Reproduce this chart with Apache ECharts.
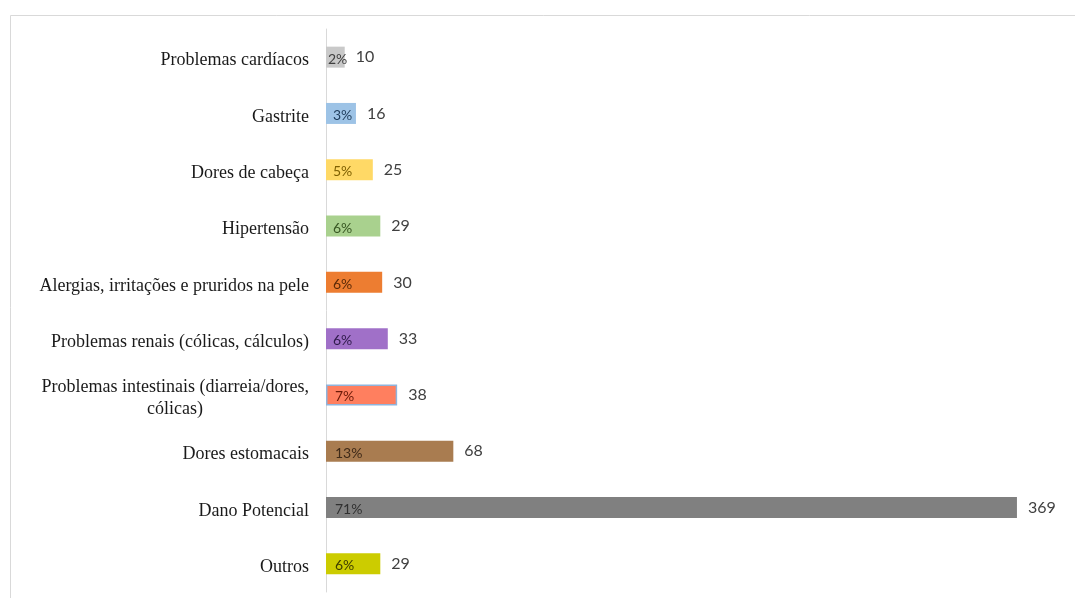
<!DOCTYPE html>
<html>
<head>
<meta charset="utf-8">
<script src="https://cdn.jsdelivr.net/npm/echarts@6/dist/echarts.min.js"></script>
<style>
  html, body { margin: 0; padding: 0; background: #fff; }
  #chart { width: 1075px; height: 598px; }
</style>
</head>
<body>
<div id="chart"></div>
<script>
// data, top to bottom
const categories = [
  "Problemas cardíacos",
  "Gastrite",
  "Dores de cabeça",
  "Hipertensão",
  "Alergias, irritações e pruridos na pele",
  "Problemas renais (cólicas, cálculos)",
  "Problemas intestinais (diarreia/dores,\ncólicas)",
  "Dores estomacais",
  "Dano Potencial",
  "Outros"
];
const counts = [10, 16, 25, 29, 30, 33, 38, 68, 369, 29];
const percents = ["2%", "3%", "5%", "6%", "6%", "6%", "7%", "13%", "71%", "6%"];

const barColors = ["#c9c9c9", "#9dc3e6", "#ffd966", "#a9d18e", "#ed7d31", "#a070c8", "#ff7f5f", "#a97c50", "#808080", "#cccc00"];
const pctColors = ["#404040", "#1f3d5c", "#7f6000", "#385723", "#5a2a08", "#2e1a4a", "#6b1a08", "#3f2a18", "#303030", "#3d3d00"];

const chart = echarts.init(document.getElementById("chart"));

const pctData = counts.map((v, i) => ({
  value: v,
  itemStyle: {
    color: barColors[i],
    borderColor: i === 6 ? "#8fb4dc" : barColors[i],
    borderWidth: i === 6 ? 1.5 : 0
  },
  label: { color: pctColors[i], distance: i === 0 ? 2 : (i >= 6 ? 9 : 7) }
}));

chart.setOption({
  animation: false,
  graphic: [{
    type: "rect",
    shape: { x: 10.5, y: 15.5, width: 1100, height: 640 },
    style: { fill: "none", stroke: "#d9d9d9", lineWidth: 1 },
    silent: true,
    z: -10
  }],
  grid: { left: 326, top: 29, width: 750, height: 563, containLabel: false },
  xAxis: {
    type: "value",
    min: 0,
    max: 400,
    show: false
  },
  yAxis: {
    type: "category",
    data: categories,
    inverse: true,
    axisTick: { show: false },
    axisLine: { show: true, lineStyle: { color: "#d9d9d9", width: 1 } },
    axisLabel: {
      margin: 17,
      padding: [7, 0, 0, 0],
      fontFamily: "Liberation Serif",
      fontSize: 18,
      color: "#1a1a1a",
      lineHeight: 22,
      formatter: (v) => {
        if (v.indexOf("\n") < 0) return v;
        const parts = v.split("\n");
        return parts[0] + "\n{c|" + parts[1] + "}";
      },
      rich: {
        c: {
          fontFamily: "Liberation Serif",
          fontSize: 18,
          color: "#1a1a1a",
          width: 268,
          align: "center",
          lineHeight: 22
        }
      }
    }
  },
  series: [
    {
      type: "bar",
      data: pctData,
      barWidth: 21,
      label: {
        show: true,
        position: "insideLeft",
        offset: [0, 2],
        formatter: (p) => percents[p.dataIndex],
        fontFamily: "Lato",
        fontSize: 14
      },
      z: 2
    },
    {
      type: "bar",
      data: counts,
      barWidth: 21,
      barGap: "-100%",
      itemStyle: { color: "rgba(0,0,0,0)" },
      label: {
        show: true,
        position: "right",
        distance: 11,
        fontFamily: "Lato",
        fontSize: 16,
        color: "#404040"
      },
      z: 3
    }
  ]
});
</script>
</body>
</html>
